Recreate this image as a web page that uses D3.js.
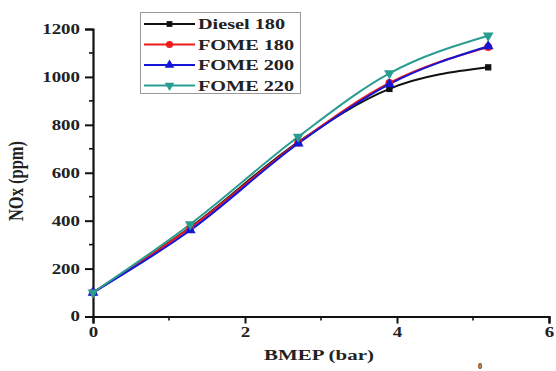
<!DOCTYPE html>
<html>
<head>
<meta charset="utf-8">
<script src="https://cdn.jsdelivr.net/npm/d3@7/dist/d3.min.js"></script>
<style>
  html, body { margin: 0; padding: 0; background: #fff; }
  svg { display: block; }
  text { font-family: "Liberation Serif", "Times New Roman", serif; font-weight: bold; fill: #222; }
</style>
</head>
<body>
<svg id="chart" width="556" height="371"></svg>
<script>
// BMEP (bar) load points
const bmep = [0, 1.28, 2.7, 3.9, 5.2];
// NOx emissions (ppm) per fuel / injection pressure
const diesel180 = [100, 372, 728, 950, 1040];
const fome180   = [100, 370, 726, 975, 1125];
const fome200   = [100, 360, 722, 970, 1128];
const fome220   = [100, 385, 750, 1015, 1172];
const seriesNames = ["Diesel 180", "FOME 180", "FOME 200", "FOME 220"];
const xTicks = [0, 2, 4, 6];
const yTicks = [0, 200, 400, 600, 800, 1000, 1200];

const seriesValues = [diesel180, fome180, fome200, fome220];
const colors = ["#111111", "#ee1c1c", "#1515d8", "#2a9d92"];
const symbols = [d3.symbolSquare, d3.symbolCircle, d3.symbolTriangle, d3.symbolTriangle];
const rotations = [0, 0, 0, 180];
const SX = 1.35; // horizontal glyph stretch

const svg = d3.select("#chart");
const x = d3.scaleLinear().domain([0, 6]).range([93, 549]);
const y = d3.scaleLinear().domain([0, 1200]).range([316.5, 29]);

// axes
const xAxis = d3.axisBottom(x).tickValues(xTicks).tickSize(7).tickPadding(4).tickFormat(d3.format("d"));
const yAxis = d3.axisLeft(y).tickValues(yTicks).tickSize(8).tickPadding(5).tickFormat(d3.format("d"));

const gx = svg.append("g").attr("transform", `translate(0,${y(0)})`).call(xAxis);
const gy = svg.append("g").attr("transform", `translate(${x(0)},0)`).call(yAxis);

// minor ticks
gx.selectAll(".minor").data([1, 3, 5]).enter().append("line")
  .attr("x1", d => x(d)).attr("x2", d => x(d)).attr("y1", 0).attr("y2", 4)
  .attr("stroke", "#111").attr("stroke-width", 1.6);
gy.selectAll(".minor").data([100, 300, 500, 700, 900, 1100]).enter().append("line")
  .attr("y1", d => y(d)).attr("y2", d => y(d)).attr("x1", 0).attr("x2", -4)
  .attr("stroke", "#111").attr("stroke-width", 1.6);

[gx, gy].forEach(g => {
  g.select(".domain").attr("stroke", "#111").attr("stroke-width", 2.2);
  g.selectAll(".tick line").attr("stroke", "#111").attr("stroke-width", 2);
  g.selectAll("text").attr("font-family", "Liberation Serif, serif")
    .attr("font-weight", "bold").attr("font-size", 14).attr("fill", "#222");
});
gx.selectAll(".tick text").attr("transform", `scale(${SX},1)`);
gy.selectAll(".tick text").attr("x", -13 / SX).attr("transform", `scale(${SX},1)`);

// axis titles
svg.append("text").attr("transform", `translate(319,${360}) scale(${SX},1)`)
  .attr("text-anchor", "middle").attr("font-size", 15.5).text("BMEP (bar)");
svg.append("text").attr("transform", `translate(23,181) rotate(-90) scale(1,1.3)`)
  .attr("text-anchor", "middle").attr("font-size", 16.5).text("NOx (ppm)");

// curves
const line = d3.line().x(d => x(d[0])).y(d => y(d[1])).curve(d3.curveMonotoneX);
seriesValues.forEach((vals, i) => {
  const pts = bmep.map((b, j) => [b, vals[j]]);
  svg.append("path").datum(pts).attr("d", line)
    .attr("fill", "none").attr("stroke", colors[i]).attr("stroke-width", 2);
});
seriesValues.forEach((vals, i) => {
  const sym = d3.symbol().type(symbols[i]).size(i === 0 ? 40 : 50);
  svg.append("g").selectAll("path").data(bmep.map((b, j) => [b, vals[j]])).enter()
    .append("path").attr("d", sym)
    .attr("transform", d => `translate(${x(d[0])},${y(d[1])}) rotate(${rotations[i]})`)
    .attr("fill", colors[i]);
});

// legend
const lg = svg.append("g");
lg.append("rect").attr("x", 140.5).attr("y", 12.5).attr("width", 160).attr("height", 81)
  .attr("fill", "#fff").attr("stroke", "#999").attr("stroke-width", 1);
seriesNames.forEach((name, i) => {
  const yy = 24 + i * 20.5;
  lg.append("line").attr("x1", 144).attr("x2", 195).attr("y1", yy).attr("y2", yy)
    .attr("stroke", colors[i]).attr("stroke-width", 2);
  lg.append("path").attr("d", d3.symbol().type(symbols[i]).size(i === 0 ? 34 : 40))
    .attr("transform", `translate(169.5,${yy}) rotate(${rotations[i]})`).attr("fill", colors[i]);
  lg.append("text").attr("transform", `translate(198,${yy + 5}) scale(${SX},1)`)
    .attr("font-size", 15).text(name);
});

// superscript of the caption below the plot
svg.append("text").attr("x", 478).attr("y", 369).attr("font-size", 8)
  .attr("font-weight", "normal").attr("fill", "#444").text("0");
</script>
</body>
</html>
